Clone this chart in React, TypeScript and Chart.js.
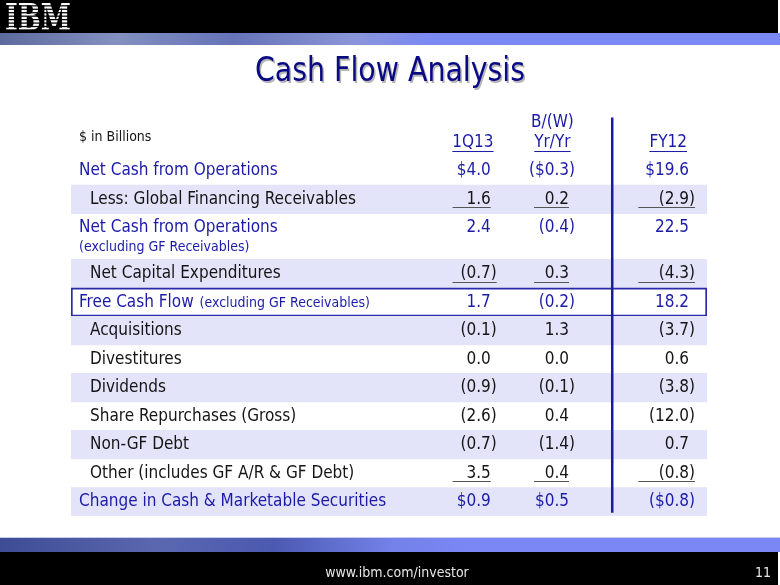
import { useEffect, useRef } from "react";
import { Chart, registerables } from "chart.js";

Chart.register(...registerables);

// ---------- data ----------
const title = "Cash Flow Analysis";
const unitsLabel = "$ in Billions";
const footerUrl = "www.ibm.com/investor";
const pageNumber = "11";

const rowLabels = [
  "Net Cash from Operations",
  "Less: Global Financing Receivables",
  "Net Cash from Operations",
  "Net Capital Expenditures",
  "Free Cash Flow",
  "Acquisitions",
  "Divestitures",
  "Dividends",
  "Share Repurchases (Gross)",
  "Non-GF Debt",
  "Other (includes GF A/R & GF Debt)",
  "Change in Cash & Marketable Securities",
];
const rowNotes = ["", "", "(excluding GF Receivables)", "", "(excluding GF Receivables)", "", "", "", "", "", "", ""];

const colHeaders = ["1Q13", "Yr/Yr", "FY12"];
const colHeaderTop = ["", "B/(W)", ""];

const q1_13 = [4.0, 1.6, 2.4, -0.7, 1.7, -0.1, 0.0, -0.9, -2.6, -0.7, 3.5, 0.9];
const bwYrYr = [-0.3, 0.2, -0.4, 0.3, -0.2, 1.3, 0.0, -0.1, 0.4, -1.4, 0.4, 0.5];
const fy12 = [19.6, -2.9, 22.5, -4.3, 18.2, -3.7, 0.6, -3.8, -12.0, 0.7, -0.8, -0.8];

const totalRows = [0, 2, 4, 11];
const dollarRows = [0, 11];
const underlinedRows = [1, 3, 10];
const shadedRows = [1, 3, 5, 7, 9, 11];
const boxedRow = 4;
const tallRows = [2];

// ---------- layout (row units) ----------
const TALL = 1.6;
const rowHeights = rowLabels.map((_, i) => (tallRows.includes(i) ? TALL : 1));
const rowStarts: number[] = [];
rowHeights.reduce((acc, h, i) => { rowStarts[i] = acc; return acc + h; }, 0);
const totalUnits = rowHeights.reduce((a, b) => a + b, 0);

const colRight = [0.66, 0.783, 0.9717];
const colUnderStart = [0.6, 0.728, 0.892];
const colHeaderCenter = [0.632, 0.757, 0.939];
const labelX = 0.0126;
const indentX = 0.0299;
const vlineX = 0.851;

const FONT = '"DejaVu Sans Condensed", "DejaVu Sans", Verdana, sans-serif';
const BLUE = "#1b1ba8";
const TITLE_BLUE = "#0a0a86";
const BLACK = "#151515";
const SHADE = "#e3e3fa";

function fmt(v: number, dollar: boolean) {
  const s = (dollar ? "$" : "") + Math.abs(v).toFixed(1);
  return v < 0 ? `(${s})` : s;
}

const bandRows = rowLabels.map((_, i) => i).filter((i) => shadedRows.includes(i) || i === boxedRow);
const bandData = bandRows.map((i) => ({ x: [0, 1], y: rowStarts[i] + rowHeights[i] / 2 }));

function drawNum(ctx: CanvasRenderingContext2D, text: string, xr: number, y: number) {
  if (text.endsWith(")")) {
    ctx.textAlign = "right";
    ctx.fillText(text.slice(0, -1), xr, y);
    ctx.textAlign = "left";
    ctx.fillText(")", xr, y);
    return xr + ctx.measureText(")").width;
  }
  ctx.textAlign = "right";
  ctx.fillText(text, xr, y);
  return xr;
}

const slidePlugin = {
  id: "slide",
  beforeDraw(chart: any) {
    const ctx: CanvasRenderingContext2D = chart.ctx;
    const W = chart.width;
    const H = chart.height;
    ctx.save();
    ctx.fillStyle = "#fff";
    ctx.fillRect(0, 0, W, H);
    // top bar
    ctx.fillStyle = "#000";
    ctx.fillRect(0, 0, W - 2, 33);
    const g = ctx.createLinearGradient(0, 0, W, 0);
    g.addColorStop(0, "#5d6a9c");
    g.addColorStop(0.15, "#8390c0");
    g.addColorStop(0.3, "#6673b8");
    g.addColorStop(0.45, "#8a95d8");
    g.addColorStop(0.55, "#7b89f3");
    g.addColorStop(1, "#7b89f5");
    ctx.fillStyle = g;
    ctx.fillRect(0, 33, W, 12);
    // footer
    const g2 = ctx.createLinearGradient(0, 0, W, 0);
    g2.addColorStop(0, "#3e4c95");
    g2.addColorStop(0.2, "#5b68b0");
    g2.addColorStop(0.35, "#4b59b0");
    g2.addColorStop(0.5, "#7381e8");
    g2.addColorStop(0.6, "#7b87f5");
    g2.addColorStop(1, "#7b87f5");
    ctx.fillStyle = "#c8cdf0";
    ctx.fillRect(0, 537, W, 1);
    ctx.fillStyle = g2;
    ctx.fillRect(0, 538, W, 14);
    ctx.fillStyle = "#000";
    ctx.fillRect(0, 552, W - 2, H - 552);
    // logo
    ctx.font = 'bold 37px "DejaVu Serif", serif';
    ctx.textBaseline = "alphabetic";
    ctx.textAlign = "left";
    const lw = ctx.measureText("IBM").width;
    ctx.save();
    ctx.translate(5, 30);
    ctx.scale(66 / lw, 1);
    ctx.fillStyle = "#fff";
    ctx.fillText("IBM", 0, 0);
    ctx.restore();
    ctx.fillStyle = "#000";
    for (let k = 0; k < 8; k++) {
      ctx.fillRect(0, 3 + k * 3.45 + 2.2, 80, 1.25);
    }
    // footer texts
    ctx.fillStyle = "#e6e6e6";
    ctx.font = `14px ${FONT}`;
    ctx.textBaseline = "middle";
    ctx.textAlign = "center";
    ctx.fillText(footerUrl, 397, 573);
    ctx.textAlign = "right";
    ctx.fillText(pageNumber, 771, 573);
    // title (condensed horizontally to the reference width)
    ctx.font = `34px ${FONT}`;
    ctx.textAlign = "center";
    ctx.textBaseline = "alphabetic";
    const tw = ctx.measureText(title).width;
    const sx = 270 / tw;
    ctx.save();
    ctx.translate(390, 81);
    ctx.scale(sx, 1);
    ctx.fillStyle = "rgba(110,110,110,0.5)";
    ctx.fillText(title, 1.5 / sx, 1.5);
    ctx.fillStyle = TITLE_BLUE;
    ctx.fillText(title, 0, 0);
    ctx.restore();
    ctx.restore();
  },
  afterDatasetsDraw(chart: any) {
    const ctx: CanvasRenderingContext2D = chart.ctx;
    const xs = chart.scales.x;
    const ys = chart.scales.y;
    const X = (v: number) => xs.getPixelForValue(v);
    const Y = (v: number) => ys.getPixelForValue(v);
    ctx.save();
    // vertical divider
    ctx.strokeStyle = "#1a1aa2";
    ctx.lineWidth = 2.5;
    ctx.beginPath();
    ctx.moveTo(X(vlineX), Y(-1.37));
    ctx.lineTo(X(vlineX), Y(totalUnits - 0.11));
    ctx.stroke();

    ctx.textBaseline = "middle";
    // header
    ctx.fillStyle = BLACK;
    ctx.font = `14px ${FONT}`;
    ctx.textAlign = "left";
    ctx.fillText(unitsLabel, X(labelX), Y(-0.69));
    ctx.font = `17px ${FONT}`;
    ctx.fillStyle = BLUE;
    ctx.strokeStyle = BLUE;
    ctx.lineWidth = 1;
    colHeaders.forEach((h, c) => {
      const cx = X(colHeaderCenter[c]);
      const cy = Y(-0.477);
      ctx.textAlign = "center";
      ctx.fillText(h, cx, cy);
      const w = ctx.measureText(h).width;
      ctx.beginPath();
      ctx.moveTo(cx - w / 2, cy + 8.5);
      ctx.lineTo(cx + w / 2, cy + 8.5);
      ctx.stroke();
      if (colHeaderTop[c]) ctx.fillText(colHeaderTop[c], cx, Y(-1.18));
    });

    // rows
    rowLabels.forEach((label, i) => {
      const isTotal = totalRows.includes(i);
      const color = isTotal ? BLUE : BLACK;
      const cy = Y(rowStarts[i] + 0.5);
      ctx.fillStyle = color;
      ctx.strokeStyle = color;
      ctx.font = `17px ${FONT}`;
      ctx.textAlign = "left";
      const lx = X(isTotal ? labelX : indentX);
      ctx.fillText(label, lx, cy);
      if (rowNotes[i]) {
        const lw = ctx.measureText(label + " ").width;
        ctx.font = `14px ${FONT}`;
        if (tallRows.includes(i)) ctx.fillText(rowNotes[i], lx, Y(rowStarts[i] + 1.17));
        else ctx.fillText(rowNotes[i], lx + lw + 1, cy + 1);
        ctx.font = `17px ${FONT}`;
      }
      const dollar = dollarRows.includes(i);
      [q1_13, bwYrYr, fy12].forEach((col, c) => {
        const txt = fmt(col[i], dollar);
        const end = drawNum(ctx, txt, X(colRight[c]), cy);
        if (underlinedRows.includes(i)) {
          ctx.save();
          ctx.strokeStyle = "#555";
          ctx.lineWidth = 1;
          ctx.beginPath();
          ctx.moveTo(X(colUnderStart[c]), Math.round(cy + 8) + 0.5);
          ctx.lineTo(end, Math.round(cy + 8) + 0.5);
          ctx.stroke();
          ctx.restore();
        }
      });
    });
    ctx.restore();
  },
};

export default function App() {
  const ref = useRef<HTMLCanvasElement>(null);
  useEffect(() => {
    const canvas = ref.current!;
    const chart = new Chart(canvas, {
      type: "bar",
      data: {
        datasets: [
          {
            data: bandData as any,
            backgroundColor: bandRows.map((i) => (i === boxedRow ? "#ffffff" : SHADE)),
            borderColor: bandRows.map((i) => (i === boxedRow ? "#2a2aa8" : SHADE)),
            borderWidth: bandRows.map((i) => (i === boxedRow ? 2 : 0)),
            borderSkipped: false,
            categoryPercentage: 1,
            barPercentage: 1,
          } as any,
        ],
      },
      options: {
        indexAxis: "y",
        responsive: false,
        maintainAspectRatio: false,
        animation: false,
        layout: { padding: { left: 71, right: 73, top: 111, bottom: 69 } },
        scales: {
          x: { type: "linear", min: 0, max: 1, display: false },
          y: {
            type: "linear",
            min: -1.6,
            max: totalUnits,
            reverse: true,
            display: false,
            offset: false,
            afterBuildTicks: (a: any) => { a.ticks = []; },
          },
        },
        plugins: { legend: { display: false }, tooltip: { enabled: false }, title: { display: false } },
      } as any,
      plugins: [slidePlugin],
    });
    return () => chart.destroy();
  }, []);
  return (
    <div style={{ position: "fixed", left: 0, top: 0, width: 780, height: 585, background: "#fff" }}>
      <canvas ref={ref} width={780} height={585} style={{ display: "block", width: 780, height: 585 }} />
    </div>
  );
}
